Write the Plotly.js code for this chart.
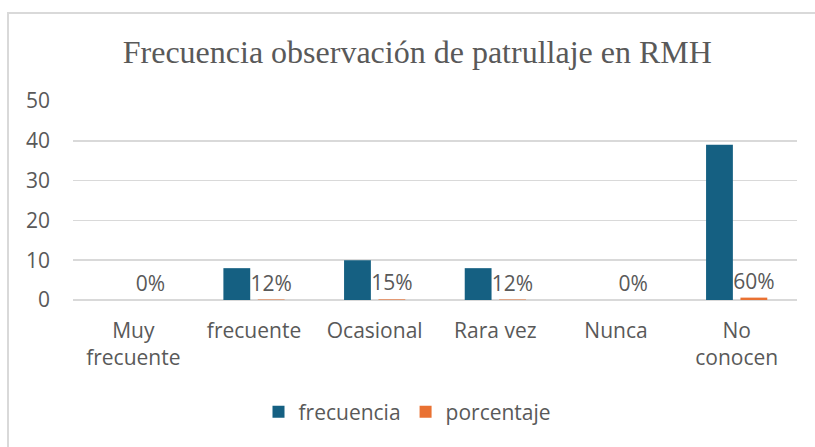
<!DOCTYPE html>
<html>
<head>
<meta charset="utf-8">
<script src="https://cdn.plot.ly/plotly-3.0.1.min.js"></script>
<style>
  html, body { margin: 0; padding: 0; background: #fff; overflow: hidden; width: 815px; height: 447px; }
  #frame { position: absolute; left: 7px; top: 12px; width: 830px; height: 460px; border-left: 2px solid #d9d9d9; border-top: 2px solid #d9d9d9; pointer-events: none; box-sizing: border-box; }
  #chart { position: absolute; left: 0; top: 0; width: 815px; height: 447px; }
</style>
</head>
<body>
<div id="chart"></div>
<div id="frame"></div>
<script>
const categories = ["Muy<br>frecuente", "frecuente", "Ocasional", "Rara vez", "Nunca", "No<br>conocen"];
const frecuencia = [0, 8, 10, 8, 0, 39];
const porcentaje = [0, 0.12, 0.15, 0.12, 0, 0.60];
const porcentajeLabels = ["0%", "12%", "15%", "12%", "0%", "60%"];
const yTicks = [0, 10, 20, 30, 40, 50];

const fontFam = "'Open Sans', 'Noto Sans', sans-serif";
const grey = "#595959";

const traces = [
  {
    type: "bar", name: "frecuencia", x: categories, y: frecuencia,
    marker: { color: "#156082" }, hoverinfo: "skip"
  },
  {
    type: "bar", name: "porcentaje", x: categories, y: porcentaje,
    marker: { color: "#E97132" },
    text: porcentajeLabels, textposition: "outside", cliponaxis: false,
    constraintext: "none",
    textfont: { family: fontFam, size: 21, color: grey }, hoverinfo: "skip"
  }
];

const layout = {
  width: 815, height: 447,
  margin: { l: 73, r: 18, t: 101, b: 147 },
  paper_bgcolor: "#ffffff", plot_bgcolor: "#ffffff",
  title: {
    text: "Frecuencia observación de patrullaje en RMH",
    font: { family: "'Liberation Serif', 'Times New Roman', serif", size: 32, color: grey },
    x: 0.512, xanchor: "center", y: 0.885, yanchor: "middle"
  },
  barmode: "group", bargap: 0.43, bargroupgap: 0.22,
  xaxis: {
    type: "category", tickfont: { family: fontFam, size: 21, color: grey },
    showgrid: false, zeroline: false, showline: false, ticks: "", ticklabelstandoff: 16
  },
  yaxis: {
    range: [0, 50], tickvals: yTicks, ticktext: yTicks.map(String),
    tickfont: { family: fontFam, size: 21, color: grey },
    showgrid: true, gridcolor: "#d9d9d9", gridwidth: 1.5,
    zeroline: true, zerolinecolor: "#d9d9d9", zerolinewidth: 1.5,
    showline: false, ticks: "", ticklabelstandoff: 22
  },
  legend: {
    orientation: "h", x: 0.5, xanchor: "center", xref: "container",
    y: 0.078, yanchor: "middle", yref: "container",
    font: { family: fontFam, size: 21, color: grey },
    itemwidth: 30, traceorder: "normal"
  },
  showlegend: true
};

Plotly.newPlot("chart", traces, layout, { displayModeBar: false, staticPlot: true });
</script>
</body>
</html>
